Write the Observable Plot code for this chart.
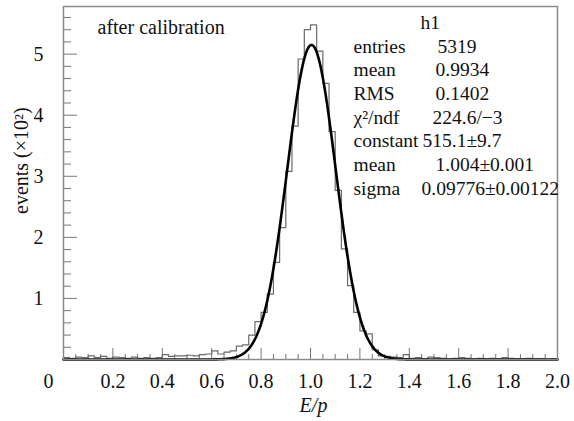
<!DOCTYPE html>
<html>
<head>
<meta charset="utf-8">
<script src="https://cdn.jsdelivr.net/npm/d3@7"></script>
<script src="https://cdn.jsdelivr.net/npm/@observablehq/plot@0.6"></script>
<style>
  html, body { margin: 0; padding: 0; background: #fff; overflow: hidden; }
  #chart { width: 574px; height: 421px; }
</style>
</head>
<body>
<div id="chart"></div>
<script>
// ---- data ----
const binStart = 0;
const binWidth = 0.025;
const binCounts = [
  3, 2, 4, 3, 6, 3, 5, 2, 4, 3,
  2, 4, 2, 3, 2, 3, 8, 5, 6, 6,
  7, 6, 8, 9, 14, 9, 12, 14, 22, 24,
  40, 62, 77, 107, 159, 216, 308, 382, 492, 540,
  548, 505, 452, 373, 277, 181, 121, 77, 47, 42,
  16, 6, 5, 4, 3, 8, 2, 3, 1, 4,
  3, 2, 1, 2, 3, 2, 1, 2, 1, 2,
  1, 3, 2, 1, 1, 2, 1, 1, 0, 1
];
// Gaussian fit parameters, as printed in the stats box
const fitConstant = 515.1;
const fitMean = 1.004;
const fitSigma = 0.09776;

const xTickValues = [0.2, 0.4, 0.6, 0.8, 1.0, 1.2, 1.4, 1.6, 1.8, 2.0];
const xTickLabels = ["0.2", "0.4", "0.6", "0.8", "1.0", "1.2", "1.4", "1.6", "1.8", "2.0"];
const yTickValues = [100, 200, 300, 400, 500];
const yTickLabels = ["1", "2", "3", "4", "5"];
const originLabel = "0";

const statTitle = "h1";
const statLabels = ["entries", "mean", "RMS", "χ²/ndf", "constant", "mean", "sigma"];
const statValues = ["5319", "0.9934", "0.1402", "224.6/−3", "515.1±9.7", "1.004±0.001", "0.09776±0.00122"];
const panelNote = "after calibration";
const xTitle = "E/p";
const yTitle = "events (×10²)";

// ---- derived drawing tables ----
const histOutline = [{x: binStart, y: 0}];
binCounts.forEach((c, i) => {
  histOutline.push({x: binStart + i * binWidth, y: c});
  histOutline.push({x: binStart + (i + 1) * binWidth, y: c});
});
histOutline.push({x: binStart + binCounts.length * binWidth, y: 0});

const fitCurve = d3.range(0, 2.0001, 0.004).map(x => ({
  x, y: fitConstant * Math.exp(-0.5 * ((x - fitMean) / fitSigma) ** 2)
}));

const xMajor = [0.2, 0.4, 0.6, 0.8, 1.0, 1.2, 1.4, 1.6, 1.8];
const xMinor = d3.range(0.05, 1.99, 0.05).filter(v => Math.abs(v * 5 - Math.round(v * 5)) > 1e-6);
const yMajor = yTickValues;
const yMinor = d3.range(20, 575, 20).filter(v => v % 100 !== 0);

const font = "'Liberation Serif', 'Times New Roman', Times, serif";
const ink = "#111";
const frameGray = "#8a8a8a";

// stats rows
const statY = [46, 69, 93, 117, 140, 164, 188];
const statValX = [437, 435, 435, 432, 422, 435, 421];
const mTop = 6, mLeft = 63;

const statMarks = [];
statLabels.forEach((lab, i) => {
  statMarks.push(Plot.text([lab], {frameAnchor: "top-left", dx: 353 - mLeft, dy: statY[i] - mTop,
    textAnchor: "start", lineAnchor: "middle", fill: ink, fontSize: 19.5}));
  statMarks.push(Plot.text([statValues[i]], {frameAnchor: "top-left", dx: statValX[i] - mLeft, dy: statY[i] - mTop,
    textAnchor: "start", lineAnchor: "middle", fill: ink, fontSize: 19.5}));
});

const chart = Plot.plot({
  width: 574,
  height: 421,
  marginLeft: mLeft,
  marginRight: 17,
  marginTop: mTop,
  marginBottom: 62,
  x: {domain: [0, 2]},
  y: {domain: [0, 578]},
  style: {fontFamily: font, fontSize: "20px", background: "#fff", color: ink, overflow: "visible"},
  marks: [
    // ticks (inward)
    Plot.axisX(xMinor, {tickSize: -5, tickFormat: () => "", stroke: "#777", label: null}),
    Plot.axisX(xMajor, {tickSize: -11, tickFormat: () => "", stroke: "#777", label: null}),
    Plot.axisY(yMinor, {tickSize: -8, tickFormat: () => "", stroke: "#777", label: null}),
    Plot.axisY(yMajor, {tickSize: -14, tickFormat: () => "", stroke: "#777", label: null}),
    // histogram
    Plot.line(histOutline, {x: "x", y: "y", stroke: "#6a6a6a", strokeWidth: 1.2}),
    // fit
    Plot.line(fitCurve, {x: "x", y: "y", stroke: "#000", strokeWidth: 2.6}),
    Plot.frame({stroke: frameGray, strokeWidth: 1.5}),
    // tick labels
    Plot.text(xTickValues, {x: d => d, text: (d, i) => xTickLabels[i], frameAnchor: "bottom", dy: 22, lineAnchor: "middle", fill: ink}),
    Plot.text(yTickValues, {y: d => d, text: (d, i) => yTickLabels[i], frameAnchor: "left", dx: -20, textAnchor: "end", fill: ink}),
    Plot.text([originLabel], {frameAnchor: "bottom-left", dx: -20, dy: 22, lineAnchor: "middle", fill: ink}),
    // titles
    Plot.text([xTitle], {frameAnchor: "bottom", dx: 3, dy: 46, lineAnchor: "middle", fontStyle: "italic", fill: ink}),
    Plot.text([yTitle], {frameAnchor: "left", dx: -42, dy: 31, rotate: -90, lineAnchor: "middle", fill: ink}),
    Plot.text([panelNote], {frameAnchor: "top-left", dx: 97 - mLeft, dy: 27 - mTop, textAnchor: "start", lineAnchor: "middle", fill: ink}),
    Plot.text([statTitle], {frameAnchor: "top-left", dx: 420 - mLeft, dy: 22 - mTop, lineAnchor: "middle", fill: ink, fontSize: 19.5}),
    ...statMarks
  ]
});
document.getElementById("chart").appendChild(chart);
</script>
</body>
</html>
